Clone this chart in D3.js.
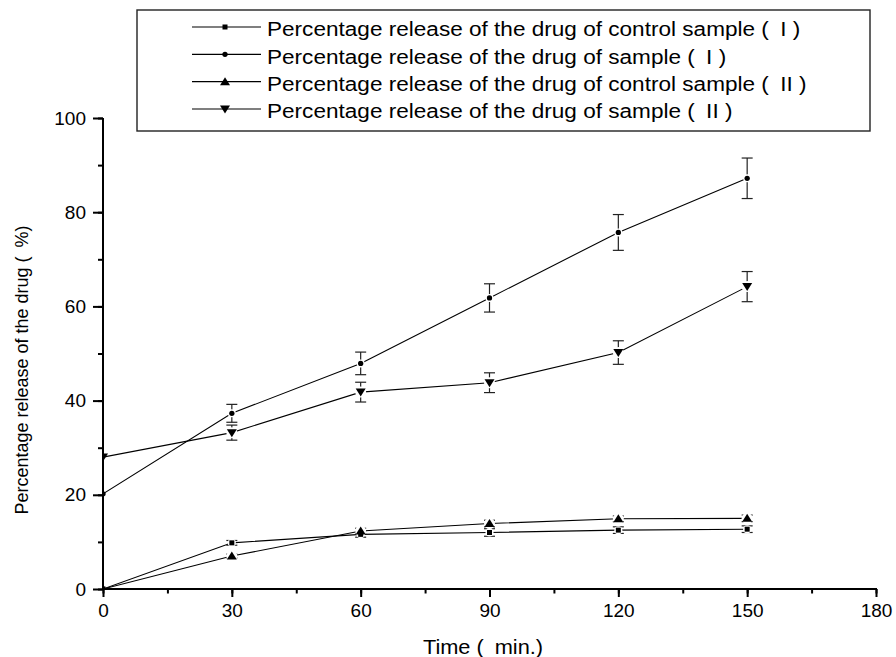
<!DOCTYPE html>
<html>
<head>
<meta charset="utf-8">
<script src="https://cdn.jsdelivr.net/npm/d3@7"></script>
<style>
  html, body { margin: 0; padding: 0; background: #fff; }
  svg { display: block; font-family: "Liberation Sans", Arial, sans-serif; }
</style>
</head>
<body>
<svg id="chart" width="896" height="657"></svg>
<script>
// ---- data ----
const times = [0, 30, 60, 90, 120, 150];
const controlI = [0, 9.8, 11.6, 12.0, 12.5, 12.7];
const controlIErr = [0, 0.5, 0.6, 0.8, 0.7, 0.7];
const sampleI = [20.2, 37.3, 47.9, 61.8, 75.7, 87.2];
const sampleIErr = [0, 1.9, 2.4, 3.0, 3.8, 4.3];
const controlII = [0, 7.0, 12.3, 13.9, 14.9, 15.0];
const controlIIErr = [0, 0.4, 0.6, 0.7, 0.6, 0.7];
const sampleII = [28.0, 33.2, 41.8, 43.8, 50.2, 64.2];
const sampleIIErr = [0, 1.6, 2.1, 2.1, 2.5, 3.2];
const seriesNames = [
  "Percentage release of the drug of control sample (\u2002I )",
  "Percentage release of the drug of sample (\u2002I )",
  "Percentage release of the drug of control sample (\u2002II )",
  "Percentage release of the drug of sample (\u2002II )"
];
const xTicks = [0, 30, 60, 90, 120, 150, 180];
const yTicks = [0, 20, 40, 60, 80, 100];
const xLabel = "Time (\u2002min.)";
const yLabel = "Percentage release of the drug (\u2002%)";

const series = [
  { name: seriesNames[0], values: controlI, err: controlIErr, shape: "square" },
  { name: seriesNames[1], values: sampleI, err: sampleIErr, shape: "circle" },
  { name: seriesNames[2], values: controlII, err: controlIIErr, shape: "up" },
  { name: seriesNames[3], values: sampleII, err: sampleIIErr, shape: "down" }
];

// ---- layout ----
const svg = d3.select("#chart");
const x = d3.scaleLinear().domain([0, 180]).range([103, 876]);
const y = d3.scaleLinear().domain([0, 100]).range([589, 118]);

function markerPath(shape) {
  if (shape === "square") return "M-2.5,-2.5H2.5V2.5H-2.5Z";
  if (shape === "circle") return d3.symbol().type(d3.symbolCircle).size(22)();
  if (shape === "up") return "M0,-4.5L5,3.5L-5,3.5Z";
  return "M0,4.5L5,-3.5L-5,-3.5Z";
}

// clip
svg.append("defs").append("clipPath").attr("id", "plot")
  .append("rect").attr("x", 103).attr("y", 100).attr("width", 790).attr("height", 490);

const plot = svg.append("g").attr("clip-path", "url(#plot)");

// lines
const line = d3.line().x((d, i) => x(times[i])).y(d => y(d));
series.forEach(s => {
  plot.append("path").attr("d", line(s.values))
    .attr("fill", "none").attr("stroke", "#000").attr("stroke-width", 1.1);
});

// error bars
series.forEach(s => {
  s.values.forEach((v, i) => {
    const e = s.err[i];
    if (!e) return;
    const cx = x(times[i]);
    const g = plot.append("g").attr("stroke", "#222").attr("stroke-width", 1.2);
    g.append("line").attr("x1", cx).attr("x2", cx).attr("y1", y(v - e)).attr("y2", y(v + e));
    g.append("line").attr("x1", cx - 5.5).attr("x2", cx + 5.5).attr("y1", y(v - e)).attr("y2", y(v - e));
    g.append("line").attr("x1", cx - 5.5).attr("x2", cx + 5.5).attr("y1", y(v + e)).attr("y2", y(v + e));
  });
});

// white halos + markers
series.forEach(s => {
  s.values.forEach((v, i) => {
    const r = (s.shape === "up" || s.shape === "down") ? 5.5 : 4;
    if (i > 0) plot.append("circle").attr("cx", x(times[i])).attr("cy", y(v)).attr("r", r).attr("fill", "#fff");
  });
});
series.forEach(s => {
  s.values.forEach((v, i) => {
    plot.append("path").attr("d", markerPath(s.shape))
      .attr("transform", `translate(${x(times[i])},${y(v)})`).attr("fill", "#000");
  });
});

// axes
const fontSize = 19;
const xAxis = svg.append("g").attr("transform", "translate(0,589)");
xAxis.call(d3.axisBottom(x).tickValues(d3.range(0, 181, 15)).tickSize(4.5).tickFormat(""));
xAxis.call(g => g.selectAll(".tick line").attr("stroke-width", 2));
const xAxisMaj = svg.append("g").attr("transform", "translate(0,589)");
xAxisMaj.call(d3.axisBottom(x).tickValues(xTicks).tickSize(8).tickPadding(7).tickFormat(d3.format("d")));
xAxisMaj.selectAll(".domain").attr("stroke-width", 2).attr("d", `M${x(0)-1},0H${x(180)+1}`);
xAxisMaj.selectAll(".tick line").attr("stroke-width", 2);
xAxisMaj.selectAll("text").attr("font-size", fontSize).attr("font-family", "Liberation Sans, Arial, sans-serif").attr("fill", "#000");
xAxis.select(".domain").remove();

const yAxis = svg.append("g").attr("transform", "translate(103,0)");
yAxis.call(d3.axisLeft(y).tickValues(d3.range(0, 101, 10)).tickSize(5).tickFormat(""));
yAxis.selectAll(".tick line").attr("stroke-width", 2);
yAxis.select(".domain").remove();
const yAxisMaj = svg.append("g").attr("transform", "translate(103,0)");
yAxisMaj.call(d3.axisLeft(y).tickValues(yTicks).tickSize(10).tickPadding(7).tickFormat(d3.format("d")));
yAxisMaj.selectAll(".domain").attr("stroke-width", 2).attr("d", `M0,${y(100)}V${y(0)+1}`);
yAxisMaj.selectAll(".tick line").attr("stroke-width", 2);
yAxisMaj.selectAll("text").attr("font-size", fontSize).attr("font-family", "Liberation Sans, Arial, sans-serif").attr("fill", "#000");

// axis titles
svg.append("text").attr("transform", "translate(483,654) scale(1.09,1)").attr("text-anchor", "middle")
  .attr("font-size", 20).attr("fill", "#000").text(xLabel);
svg.append("text").attr("transform", "translate(28,370) rotate(-90)").attr("text-anchor", "middle")
  .attr("font-size", 18).attr("fill", "#000").text(yLabel);

// legend
const leg = svg.append("g");
leg.append("rect").attr("x", 137).attr("y", 10).attr("width", 733).attr("height", 121)
  .attr("fill", "#fff").attr("stroke", "#222").attr("stroke-width", 1.4);
const legY = d3.scalePoint().domain(d3.range(series.length)).range([27, 109]);
series.forEach((s, i) => {
  const yy = legY(i);
  leg.append("line").attr("x1", 192).attr("x2", 261).attr("y1", yy).attr("y2", yy)
    .attr("stroke", "#000").attr("stroke-width", 1.1);
  leg.append("path").attr("d", markerPath(s.shape)).attr("transform", `translate(225,${yy})`).attr("fill", "#000");
  leg.append("text").attr("transform", `translate(267,${yy}) scale(1.075,1)`).attr("dy", "0.45em")
    .attr("font-size", 21).attr("fill", "#000").text(s.name);
});
</script>
</body>
</html>
